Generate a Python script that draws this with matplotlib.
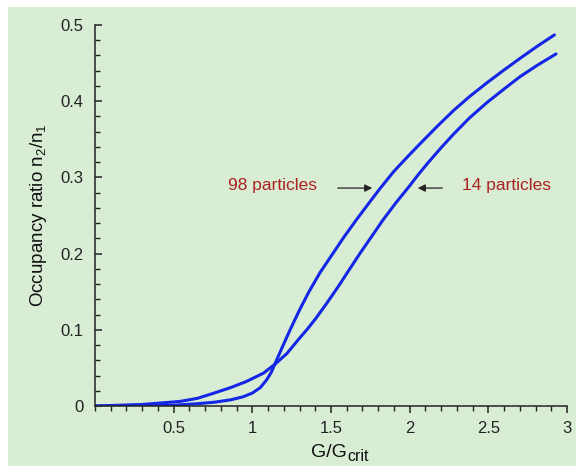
import matplotlib.pyplot as plt
from matplotlib.patches import Rectangle
from matplotlib.ticker import MultipleLocator

plt.rcParams['font.family'] = ['Liberation Sans', 'DejaVu Sans']
plt.rcParams['mathtext.fontset'] = 'custom'
plt.rcParams['mathtext.rm'] = 'Liberation Sans'
plt.rcParams['mathtext.it'] = 'Liberation Sans'

# occupancy ratio n2/n1 against G/Gcrit
x98 = [0.0, 0.3, 0.5, 0.65, 0.76, 0.86, 0.94, 1.0, 1.05, 1.09, 1.12, 1.145, 1.19,
       1.24, 1.30, 1.36, 1.43, 1.505, 1.58, 1.66, 1.74, 1.81, 1.90, 2.0, 2.07,
       2.18, 2.28, 2.38, 2.49, 2.60, 2.70, 2.81, 2.92]
y98 = [0.0, 0.0, 0.001, 0.003, 0.005, 0.008, 0.012, 0.017, 0.024, 0.034, 0.044, 0.056, 0.077,
       0.100, 0.126, 0.150, 0.175, 0.198, 0.221, 0.244, 0.266, 0.285, 0.308, 0.330, 0.345,
       0.368, 0.388, 0.406, 0.424, 0.441, 0.456, 0.472, 0.487]

x14 = [0.0, 0.3, 0.54, 0.65, 0.75, 0.86, 0.96, 1.07, 1.145, 1.22, 1.30, 1.35, 1.40,
       1.47, 1.547, 1.61, 1.68, 1.75, 1.83, 1.91, 2.0, 2.06, 2.12, 2.20, 2.28, 2.38,
       2.49, 2.60, 2.70, 2.81, 2.93]
y14 = [0.0, 0.002, 0.006, 0.010, 0.0165, 0.024, 0.032, 0.043, 0.055, 0.069, 0.089, 0.101, 0.114,
       0.134, 0.157, 0.177, 0.199, 0.220, 0.244, 0.266, 0.289, 0.305, 0.320, 0.339, 0.357, 0.378,
       0.398, 0.416, 0.432, 0.447, 0.462]

xticks = [0.5, 1, 1.5, 2, 2.5, 3]
xticklabels = ['0.5', '1', '1.5', '2', '2.5', '3']
yticks = [0, 0.1, 0.2, 0.3, 0.4, 0.5]
yticklabels = ['0', '0.1', '0.2', '0.3', '0.4', '0.5']

bg = '#d9edd4'
blue = '#1426e6'
red = '#aa2222'
ink = '#222222'

fig = plt.figure(figsize=(5.76, 4.66), dpi=100, facecolor='white')
fig.patches.append(Rectangle((8 / 576, 0), 1, 1 - 7 / 466, transform=fig.transFigure,
                             facecolor=bg, edgecolor='none', zorder=-10))
ax = fig.add_axes([95 / 576, 1 - 406 / 466, 472 / 576, 381 / 466])
ax.patch.set_visible(False)

ax.plot(x98, y98, color=blue, lw=2.2, solid_joinstyle='round', solid_capstyle='round')
ax.plot(x14, y14, color=blue, lw=2.2, solid_joinstyle='round', solid_capstyle='round')

ax.set_xlim(0, 3)
ax.set_ylim(0, 0.5)
ax.set_xticks(xticks)
ax.set_xticklabels(xticklabels)
ax.set_yticks(yticks)
ax.set_yticklabels(yticklabels)
ax.xaxis.set_minor_locator(MultipleLocator(0.1))
ax.yaxis.set_minor_locator(MultipleLocator(0.02))

for s in ['top', 'right']:
    ax.spines[s].set_visible(False)
for s in ['left', 'bottom']:
    ax.spines[s].set_linewidth(1.1)
    ax.spines[s].set_color(ink)

ax.tick_params(axis='x', which='major', direction='out', length=5, width=1.1, pad=6,
               labelsize=12, colors=ink)
ax.tick_params(axis='x', which='minor', direction='out', length=3.3, width=1.0, colors=ink)
ax.tick_params(axis='y', which='major', direction='in', length=5, width=1.1, pad=8.5,
               labelsize=12, colors=ink)
ax.tick_params(axis='y', which='minor', direction='in', length=3.3, width=1.0, colors=ink)

# x label: "crit" is set almost full size, just lowered
xl = ax.text(0.534, -0.134, 'G/G', transform=ax.transAxes, ha='right', va='baseline',
             fontsize=14, color='#111111')
ax.annotate('crit', xy=(1, 0), xycoords=xl, xytext=(0.3, -2.0), textcoords='offset points',
            ha='left', va='bottom', fontsize=11.5, color='#111111')
ax.set_ylabel('Occupancy ratio n$_{2}$/n$_{1}$', fontsize=13.5, color='#111111', labelpad=8)

# arrows pointing at each curve
ax.annotate('', xy=(1.78, 0.286), xytext=(1.526, 0.286),
            arrowprops=dict(arrowstyle='-|>', color=ink, lw=0.9, mutation_scale=11))
ax.annotate('', xy=(2.034, 0.286), xytext=(2.225, 0.286),
            arrowprops=dict(arrowstyle='-|>', color=ink, lw=0.9, mutation_scale=11))
ax.text(0.845, 0.289, '98 particles', color=red, fontsize=12.5, va='center', ha='left')
ax.text(2.33, 0.289, '14 particles', color=red, fontsize=12.5, va='center', ha='left')

plt.savefig('out.png', dpi=100, facecolor=fig.get_facecolor())
